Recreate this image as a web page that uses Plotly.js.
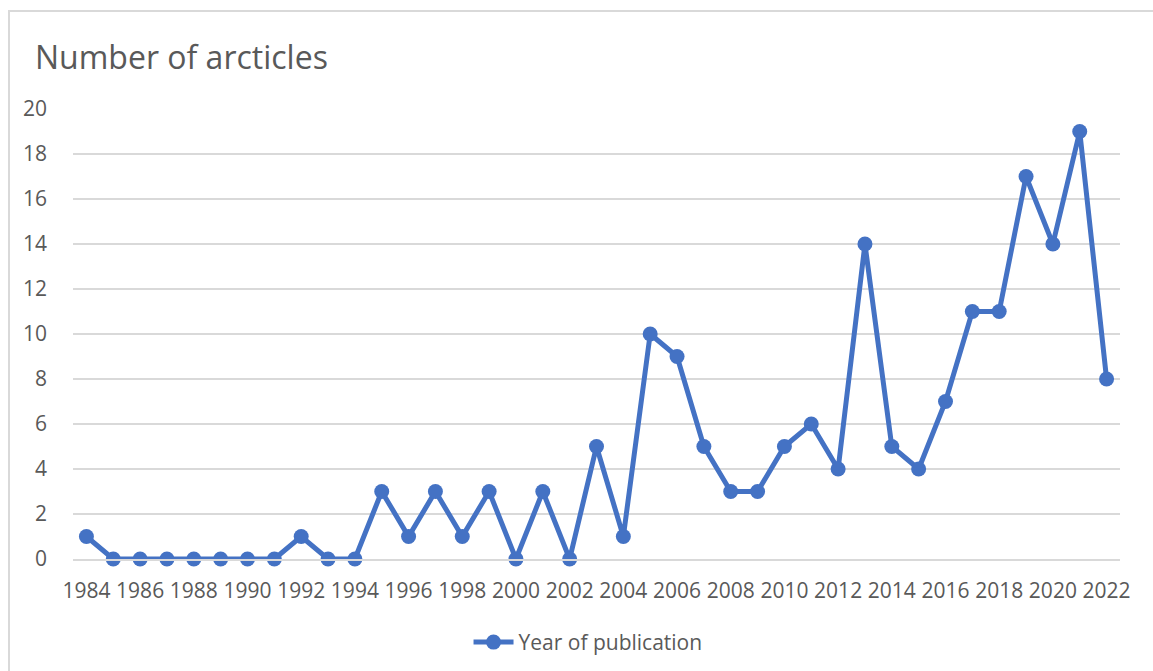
<!DOCTYPE html>
<html>
<head>
<meta charset="utf-8">
<script src="https://cdn.plot.ly/plotly-3.0.1.min.js"></script>
<style>
  html, body { margin: 0; padding: 0; background: #fff; overflow: hidden; }
  #frame { position: absolute; left: 8px; top: 10px; width: 1200px; height: 700px;
           border-left: 2px solid #d9d9d9; border-top: 2px solid #d9d9d9; }
  #chart { position: absolute; left: 0; top: 0; width: 1153px; height: 671px; }
</style>
</head>
<body>
<div id="frame"></div>
<div id="chart"></div>
<script>
const years = [1984,1985,1986,1987,1988,1989,1990,1991,1992,1993,1994,1995,1996,1997,1998,1999,2000,2001,2002,2003,2004,2005,2006,2007,2008,2009,2010,2011,2012,2013,2014,2015,2016,2017,2018,2019,2020,2021,2022];
const articles = [1,0,0,0,0,0,0,0,1,0,0,3,1,3,1,3,0,3,0,5,1,10,9,5,3,3,5,6,4,14,5,4,7,11,11,17,14,19,8];
const xTicks = [1984,1986,1988,1990,1992,1994,1996,1998,2000,2002,2004,2006,2008,2010,2012,2014,2016,2018,2020,2022];
const yTicks = [0,2,4,6,8,10,12,14,16,18,20];
const seriesName = 'Year of publication';
const chartTitle = 'Number of arcticles';

const font = "Open Sans, Lato, sans-serif";
const textColor = '#595959';
const lineColor = '#4472C4';

const trace = {
  x: years, y: articles, type: 'scatter', mode: 'lines+markers', name: seriesName,
  line: {color: lineColor, width: 5},
  marker: {color: lineColor, size: 15},
  cliponaxis: false,
  showlegend: true
};

const layout = {
  width: 1153, height: 671,
  paper_bgcolor: 'rgba(0,0,0,0)', plot_bgcolor: 'rgba(0,0,0,0)',
  margin: {l: 72.6, r: 33, t: 109, b: 112},
  font: {family: font, color: textColor, size: 21},
  title: {text: chartTitle, x: 0, xref: 'paper', xanchor: 'left', y: 1, yref: 'container', yanchor: 'top',
          pad: {t: 47, l: -38}, font: {family: font, size: 32, color: textColor}},
  xaxis: {
    range: [1983.5, 2022.5], tickmode: 'array', tickvals: xTicks, ticktext: xTicks.map(String),
    showgrid: false, zeroline: false, showline: true, linecolor: '#d9d9d9', linewidth: 1.5,
    ticks: '', ticklabelstandoff: 12, tickangle: 0, fixedrange: true, tickfont: {size: 21}
  },
  yaxis: {
    range: [0, 20], tickmode: 'array', tickvals: yTicks, showgrid: true, gridcolor: '#d9d9d9', gridwidth: 1.5,
    zeroline: false, showline: false, ticks: '', ticklabelstandoff: 25, fixedrange: true, tickfont: {size: 21}
  },
  legend: {orientation: 'h', x: 0.51, xanchor: 'center', xref: 'container', y: 0.012, yref: 'container', yanchor: 'bottom',
           font: {family: font, size: 21, color: textColor}, itemwidth: 40, borderwidth: 0,
           bgcolor: 'rgba(0,0,0,0)'}
};

Plotly.newPlot('chart', [trace], layout, {displayModeBar: false, staticPlot: true});
</script>
</body>
</html>
